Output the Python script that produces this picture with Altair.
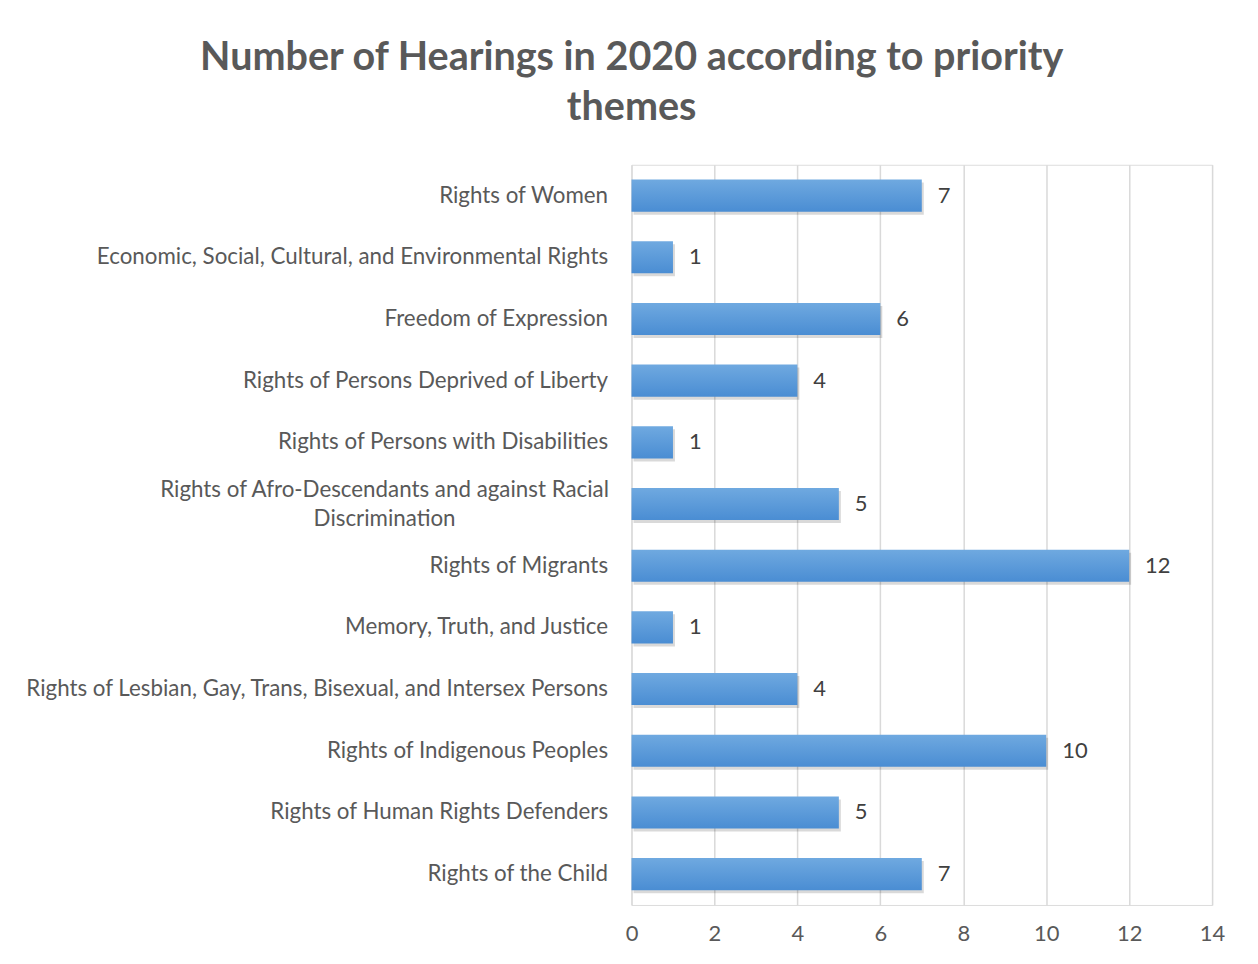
import altair as alt
import pandas as pd

categories = [
    "Rights of Women",
    "Economic, Social, Cultural, and Environmental Rights",
    "Freedom of Expression",
    "Rights of Persons Deprived of Liberty",
    "Rights of Persons with Disabilities",
    "Rights of Afro-Descendants and against Racial|Discrimination",
    "Rights of Migrants",
    "Memory, Truth, and Justice",
    "Rights of Lesbian, Gay, Trans, Bisexual, and Intersex Persons",
    "Rights of Indigenous Peoples",
    "Rights of Human Rights Defenders",
    "Rights of the Child",
]
hearings = [7, 1, 6, 4, 1, 5, 12, 1, 4, 10, 5, 7]
x_ticks = [0, 2, 4, 6, 8, 10, 12, 14]

df = pd.DataFrame({"theme": categories, "hearings": hearings})

FONT = "Lato"
GRAY = "#595959"

wrapped = "indexof(datum.value, '|') >= 0"
label_expr = "indexof(datum.label, '|') >= 0 ? split(datum.label, '|') : datum.label"

y_enc = alt.Y(
    "theme:N",
    sort=categories,
    title=None,
    scale=alt.Scale(paddingInner=0.48, paddingOuter=0.24),
    axis=alt.Axis(
        labelExpr=label_expr,
        labelFont=FONT,
        labelFontSize=22.4,
        labelColor=GRAY,
        labelPadding={"condition": {"test": wrapped, "value": 248}, "value": 24},
        labelAlign={"condition": {"test": wrapped, "value": "center"}, "value": "right"},
        labelOffset={"condition": {"test": wrapped, "value": -14}, "value": 0},
        labelLimit=800,
        labelLineHeight=29,
        domain=False,
        ticks=False,
        grid=False,
    ),
)
x_enc = alt.X(
    "hearings:Q",
    title=None,
    scale=alt.Scale(domain=[0, 14], nice=False),
    axis=alt.Axis(
        values=x_ticks,
        labelFont=FONT,
        labelFontSize=22,
        labelColor=GRAY,
        labelPadding=19,
        labelFlush=False,
        domain=False,
        ticks=False,
        grid=True,
        gridColor="#d9d9d9",
        gridWidth=1.5,
    ),
)

base = alt.Chart(df)

shadow = base.mark_bar(color="#000000", opacity=0.15, xOffset=2, yOffset=3).encode(
    x=x_enc, y=y_enc
)

bars = base.mark_bar(
    color=alt.Gradient(
        gradient="linear",
        x1=0, x2=0, y1=0, y2=1,
        stops=[
            alt.GradientStop(color="#6fa9e0", offset=0),
            alt.GradientStop(color="#4a8dd3", offset=1),
        ],
    )
).encode(x=x_enc, y=y_enc)

text = base.mark_text(
    align="left", baseline="middle", dx=16, font=FONT, fontSize=22, color="#404040"
).encode(x=x_enc, y=y_enc, text="hearings:Q")

chart = (
    alt.layer(shadow, bars, text)
    .properties(
        width=582,
        height=742,
        padding={"left": 16, "top": 29, "right": 25, "bottom": 10},
        title=alt.TitleParams(
            text=["Number of Hearings in 2020 according to priority", "themes"],
            font=FONT,
            fontSize=39.6,
            fontWeight="bold",
            color=GRAY,
            lineHeight=50,
            anchor="middle",
            frame="bounds",
            offset=36,
            dx=7,
        ),
    )
    .configure_view(stroke=None)
    .configure(background="white")
)

chart.save("out.html", embed_options={"renderer": "svg", "actions": False})
